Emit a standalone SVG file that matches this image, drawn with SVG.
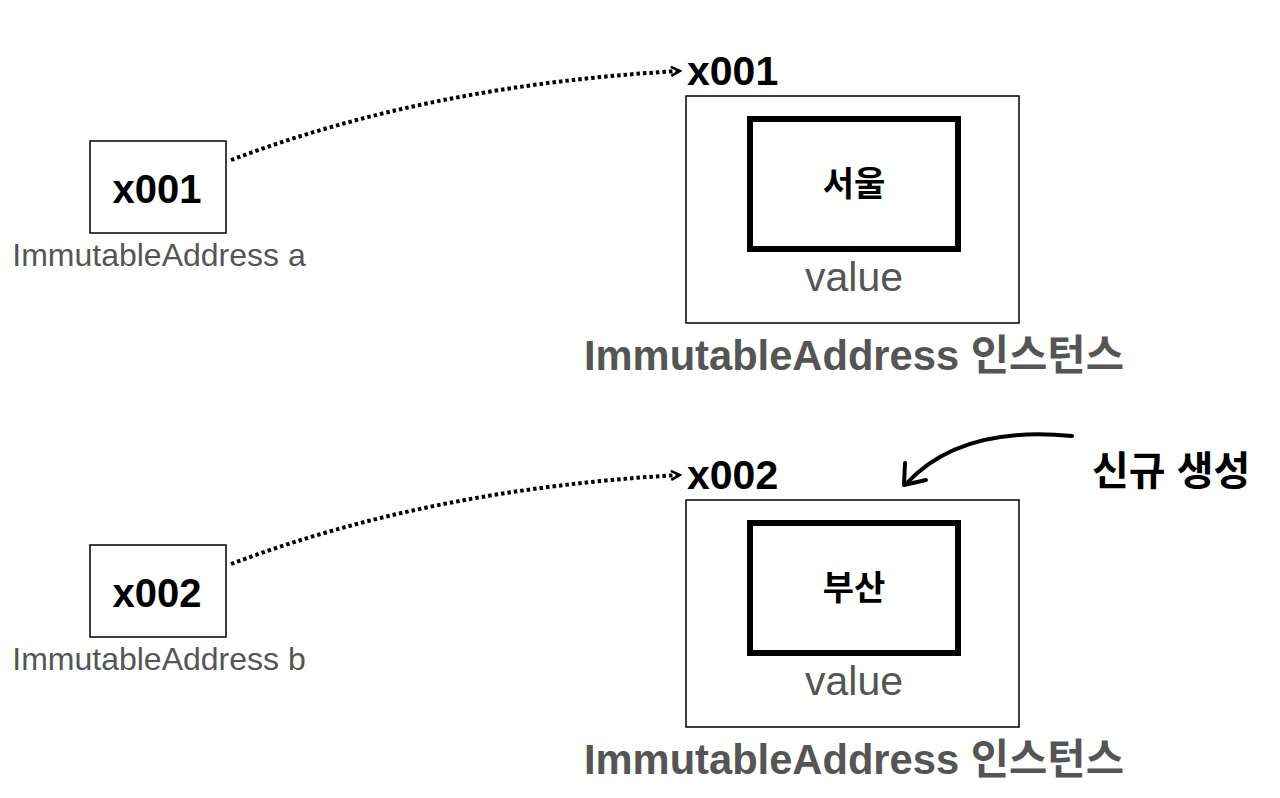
<svg xmlns="http://www.w3.org/2000/svg" width="1280" height="798" viewBox="0 0 1280 798">
<style>
.b{fill:#fff;stroke:#000;stroke-width:1.5}
.in{fill:#fff;stroke:#000;stroke-width:6}
.t{font-family:"Liberation Sans","Noto Sans CJK KR",sans-serif}
.bold{font-weight:bold;fill:#000}
.g{fill:#555}
.dot{fill:none;stroke:#000;stroke-width:4;stroke-dasharray:3.5 3}
</style>
<defs>
<marker id="ah" markerWidth="12" markerHeight="12" refX="9" refY="6" orient="auto" markerUnits="userSpaceOnUse">
<path d="M1,1.5 L10,6 L1,10.5" fill="none" stroke="#000" stroke-width="2.5"/>
</marker>
</defs>
<rect width="1280" height="798" fill="#fff"/>
<g id="ref-a">
<rect class="b" x="90" y="141" width="136" height="92"/>
<text class="t bold" x="157" y="203" font-size="40" text-anchor="middle">x001</text>
<text class="t g" x="159" y="266" font-size="32" text-anchor="middle">ImmutableAddress a</text>
</g>
<g id="ref-b">
<rect class="b" x="90" y="545" width="136" height="92"/>
<text class="t bold" x="157" y="607" font-size="40" text-anchor="middle">x002</text>
<text class="t g" x="159" y="670" font-size="32" text-anchor="middle">ImmutableAddress b</text>
</g>
<g id="inst-1">
<text class="t bold" x="687" y="85" font-size="41">x001</text>
<rect class="b" x="686" y="96" width="333" height="227"/>
<rect class="in" x="750" y="119" width="208" height="130"/>
<text class="t bold" x="854" y="196" font-size="34" text-anchor="middle">서울</text>
<text class="t g" x="854" y="291" font-size="41" text-anchor="middle">value</text>
<text class="t bold" x="854" y="370" font-size="42" text-anchor="middle" style="fill:#555" textLength="540" lengthAdjust="spacingAndGlyphs">ImmutableAddress 인스턴스</text>
</g>
<g id="inst-2">
<text class="t bold" x="687" y="489" font-size="41">x002</text>
<rect class="b" x="686" y="500" width="333" height="227"/>
<rect class="in" x="750" y="523" width="208" height="130"/>
<text class="t bold" x="854" y="600" font-size="34" text-anchor="middle">부산</text>
<text class="t g" x="854" y="695" font-size="41" text-anchor="middle">value</text>
<text class="t bold" x="854" y="774" font-size="42" text-anchor="middle" style="fill:#555" textLength="540" lengthAdjust="spacingAndGlyphs">ImmutableAddress 인스턴스</text>
</g>
<g id="note">
<text class="t bold" x="1092" y="485" font-size="40">신규 생성</text>
</g>
<g id="connectors">
<path class="dot" d="M231,160 Q430,85 679,71" marker-end="url(#ah)"/>
<path class="dot" d="M231,564 Q430,489 679,475" marker-end="url(#ah)"/>
<path d="M1072,436 Q960,425 906,484" fill="none" stroke="#000" stroke-width="4" stroke-linecap="round"/>
<path d="M905,463 L904,485 L926,480" fill="none" stroke="#000" stroke-width="4" stroke-linecap="round" stroke-linejoin="round"/>
</g>
</svg>
